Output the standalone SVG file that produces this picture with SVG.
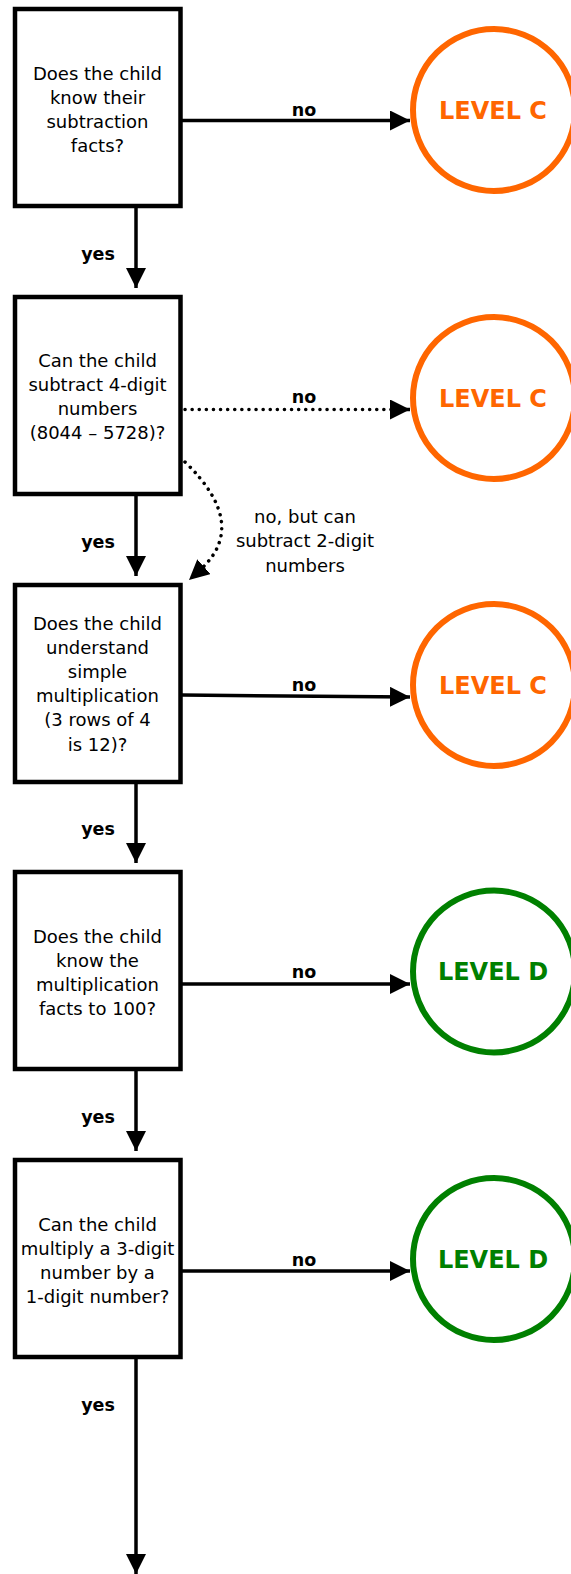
<svg xmlns="http://www.w3.org/2000/svg" width="571" height="1574" viewBox="0 0 571 1574">
<style>
.box{fill:#fff;stroke:#000;stroke-width:4.5}
.q{font-family:"DejaVu Sans",Verdana,sans-serif;font-size:18px;fill:#000;text-anchor:middle}
.lbl{font-family:"DejaVu Sans",Verdana,sans-serif;font-size:17.5px;font-weight:bold;fill:#000;text-anchor:middle}
.lc{fill:#fff;stroke:#FF6600;stroke-width:6}
.ld{fill:#fff;stroke:#008000;stroke-width:6}
.lt{font-family:"DejaVu Sans",Verdana,sans-serif;font-size:24px;font-weight:bold;text-anchor:middle}
.ln{fill:none;stroke:#000;stroke-width:3.5}
.dot{fill:none;stroke:#000;stroke-width:3.5;stroke-linecap:round;stroke-dasharray:0.1 7}
</style>
<defs>
<marker id="ah" viewBox="0 0 20 20" refX="20" refY="10" markerWidth="20" markerHeight="20" markerUnits="userSpaceOnUse" orient="auto">
<path d="M0,0 L20,10 L0,20 z" fill="#000"/>
</marker>
</defs>
<g id="connectors">
<line class="ln" x1="182" y1="120.5" x2="410" y2="120.5" marker-end="url(#ah)"/>
<line class="ln" x1="136" y1="208" x2="136" y2="288" marker-end="url(#ah)"/>
<line class="dot" x1="185" y1="409.5" x2="392" y2="409.5"/>
<path d="M390,409.5 L410,409.5" class="ln" marker-end="url(#ah)" stroke-width="0.1"/>
<path class="dot" d="M185,462 Q250,525 200,570"/>
<path d="M202.5,568 L189,580" fill="none" stroke="#000" stroke-width="0.1" marker-end="url(#ah)"/>
<line class="ln" x1="136" y1="495" x2="136" y2="576" marker-end="url(#ah)"/>
<line class="ln" x1="182" y1="695" x2="410" y2="697" marker-end="url(#ah)"/>
<line class="ln" x1="136" y1="783" x2="136" y2="863" marker-end="url(#ah)"/>
<line class="ln" x1="182" y1="984" x2="410" y2="984" marker-end="url(#ah)"/>
<line class="ln" x1="136" y1="1071" x2="136" y2="1151" marker-end="url(#ah)"/>
<line class="ln" x1="182" y1="1271" x2="410" y2="1271" marker-end="url(#ah)"/>
<line class="ln" x1="136" y1="1358" x2="136" y2="1574" marker-end="url(#ah)"/>
<text class="lbl" x="304" y="115.5">no</text>
<text class="lbl" x="98" y="260">yes</text>
<text class="lbl" x="304" y="403">no</text>
<text class="q" x="305" y="523">no, but can</text>
<text class="q" x="305" y="547">subtract 2-digit</text>
<text class="q" x="305" y="572">numbers</text>
<text class="lbl" x="98" y="548">yes</text>
<text class="lbl" x="304" y="691">no</text>
<text class="lbl" x="98" y="835">yes</text>
<text class="lbl" x="304" y="978">no</text>
<text class="lbl" x="98" y="1123">yes</text>
<text class="lbl" x="304" y="1266">no</text>
<text class="lbl" x="98" y="1411">yes</text>
</g>
<g id="q1">
<rect class="box" x="15" y="9" width="165.5" height="197"/>
<text class="q" x="97.5" y="79.6">Does the child</text>
<text class="q" x="97.5" y="103.7">know their</text>
<text class="q" x="97.5" y="127.8">subtraction</text>
<text class="q" x="97.5" y="151.9">facts?</text>
</g>
<g id="q2">
<rect class="box" x="15" y="297" width="165.5" height="197"/>
<text class="q" x="97.5" y="366.5">Can the child</text>
<text class="q" x="97.5" y="390.7">subtract 4-digit</text>
<text class="q" x="97.5" y="414.9">numbers</text>
<text class="q" x="97.5" y="439.1">(8044 – 5728)?</text>
</g>
<g id="q3">
<rect class="box" x="15" y="585" width="165.5" height="197"/>
<text class="q" x="97.5" y="629.5">Does the child</text>
<text class="q" x="97.5" y="653.7">understand</text>
<text class="q" x="97.5" y="677.9">simple</text>
<text class="q" x="97.5" y="702.1">multiplication</text>
<text class="q" x="97.5" y="726.3">(3 rows of 4</text>
<text class="q" x="97.5" y="750.5">is 12)?</text>
</g>
<g id="q4">
<rect class="box" x="15" y="872" width="165.5" height="197"/>
<text class="q" x="97.5" y="942.6">Does the child</text>
<text class="q" x="97.5" y="966.8">know the</text>
<text class="q" x="97.5" y="991">multiplication</text>
<text class="q" x="97.5" y="1015.2">facts to 100?</text>
</g>
<g id="q5">
<rect class="box" x="15" y="1160" width="165.5" height="197"/>
<text class="q" x="97.5" y="1230.6">Can the child</text>
<text class="q" x="97.5" y="1254.8">multiply a 3-digit</text>
<text class="q" x="97.5" y="1279">number by a</text>
<text class="q" x="97.5" y="1303.2">1-digit number?</text>
</g>
<g id="c1">
<circle class="lc" cx="494" cy="110" r="81"/>
<text class="lt" x="493" y="118.5" fill="#FF6600">LEVEL C</text>
</g>
<g id="c2">
<circle class="lc" cx="494" cy="398" r="81"/>
<text class="lt" x="493" y="406.5" fill="#FF6600">LEVEL C</text>
</g>
<g id="c3">
<circle class="lc" cx="494" cy="685" r="81"/>
<text class="lt" x="493" y="693.5" fill="#FF6600">LEVEL C</text>
</g>
<g id="d1">
<circle class="ld" cx="494" cy="971.5" r="81"/>
<text class="lt" x="493" y="980" fill="#008000">LEVEL D</text>
</g>
<g id="d2">
<circle class="ld" cx="494" cy="1259" r="81"/>
<text class="lt" x="493" y="1267.5" fill="#008000">LEVEL D</text>
</g>
</svg>
